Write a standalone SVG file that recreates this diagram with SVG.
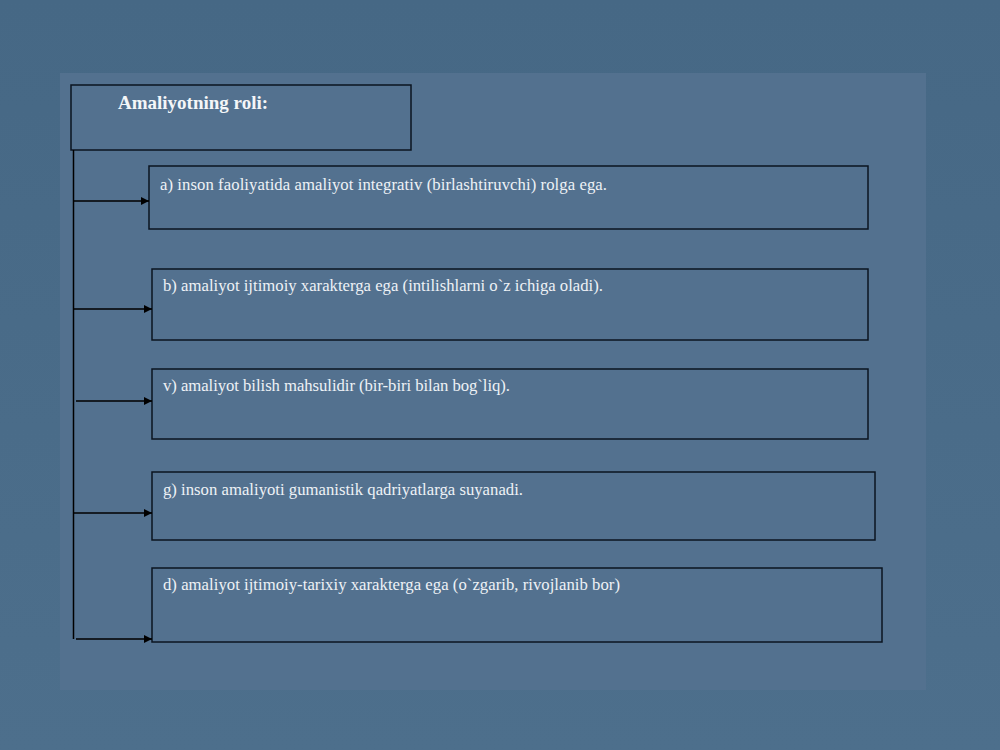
<svg xmlns="http://www.w3.org/2000/svg" width="1000" height="750" viewBox="0 0 1000 750">
<defs>
<marker id="arr" viewBox="0 0 10 10" refX="10" refY="5" markerWidth="8" markerHeight="8" markerUnits="userSpaceOnUse" orient="auto">
<path d="M0,0 L10,5 L0,10 z" fill="#000"/>
</marker>
<linearGradient id="bg" x1="0" y1="0" x2="0" y2="1">
<stop offset="0" stop-color="#466885"/>
<stop offset="1" stop-color="#4d6f8c"/>
</linearGradient>
</defs>
<style>
.box{fill:none;stroke:#0b1420;stroke-width:1.5}
.t{font-family:"Liberation Serif","Times New Roman",serif;font-size:16.7px;fill:#eef2f6}
.h{font-family:"Liberation Serif","Times New Roman",serif;font-size:19px;font-weight:bold;fill:#f4f6f8}
.c{fill:none;stroke:#000;stroke-width:1.5}
</style>
<rect x="0" y="0" width="1000" height="750" fill="url(#bg)"/>
<rect x="60" y="73" width="866" height="617" fill="#53718f"/>
<g id="title">
<rect class="box" x="71" y="85" width="340" height="65"/>
<text class="h" x="118" y="109">Amaliyotning roli:</text>
</g>
<g id="node-a">
<rect class="box" x="149" y="166" width="719" height="63"/>
<text class="t" x="160" y="190" textLength="447" lengthAdjust="spacing">a) inson  faoliyatida amaliyot integrativ (birlashtiruvchi) rolga ega.</text>
</g>
<g id="node-b">
<rect class="box" x="152" y="269" width="716" height="71"/>
<text class="t" x="163" y="291" textLength="440" lengthAdjust="spacing">b) amaliyot ijtimoiy xarakterga ega (intilishlarni o`z ichiga oladi).</text>
</g>
<g id="node-v">
<rect class="box" x="152" y="369" width="716" height="70"/>
<text class="t" x="163" y="391" textLength="347" lengthAdjust="spacing">v) amaliyot bilish mahsulidir (bir-biri bilan bog`liq).</text>
</g>
<g id="node-g">
<rect class="box" x="152" y="472" width="723" height="68"/>
<text class="t" x="163" y="495" textLength="360" lengthAdjust="spacing">g) inson amaliyoti gumanistik qadriyatlarga suyanadi.</text>
</g>
<g id="node-d">
<rect class="box" x="152" y="568" width="730" height="74"/>
<text class="t" x="163" y="590" textLength="457" lengthAdjust="spacing">d) amaliyot ijtimoiy-tarixiy  xarakterga ega (o`zgarib, rivojlanib bor)</text>
</g>
<g id="connectors">
<line class="c" x1="73.5" y1="150" x2="73.5" y2="639"/>
<line class="c" x1="73.5" y1="201" x2="149" y2="201" marker-end="url(#arr)"/>
<line class="c" x1="73.5" y1="309" x2="152" y2="309" marker-end="url(#arr)"/>
<line class="c" x1="76" y1="401" x2="152" y2="401" marker-end="url(#arr)"/>
<line class="c" x1="73.5" y1="513" x2="152" y2="513" marker-end="url(#arr)"/>
<line class="c" x1="76" y1="639" x2="152" y2="639" marker-end="url(#arr)"/>
</g>
</svg>
